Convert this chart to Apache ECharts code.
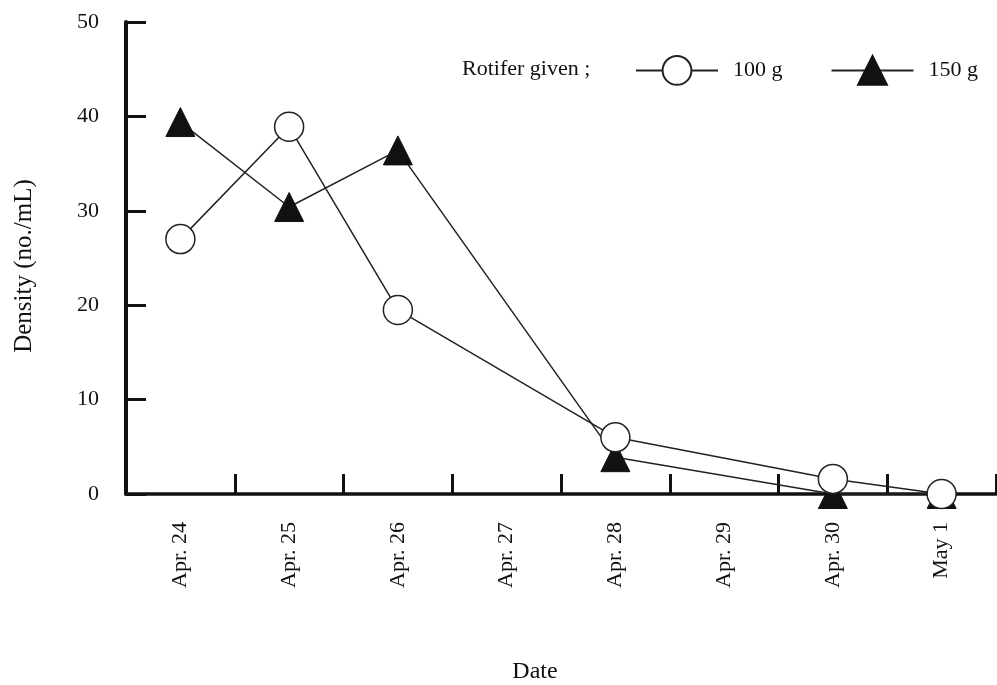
<!DOCTYPE html>
<html>
<head>
<meta charset="utf-8">
<script src="https://cdn.jsdelivr.net/npm/echarts@6/dist/echarts.min.js"></script>
<style>
html,body{margin:0;padding:0;background:#fff;}
#chart{width:997px;height:685px;}
</style>
</head>
<body>
<div id="chart"></div>
<script>
var categories = ['Apr. 24','Apr. 25','Apr. 26','Apr. 27','Apr. 28','Apr. 29','Apr. 30','May 1'];
var series100 = [27.0, 38.9, 19.5, null, 6.0, null, 1.6, 0];
var series150 = [39.4, 30.4, 36.4, null, 3.9, null, 0, 0];
var yTicks = [0, 10, 20, 30, 40, 50];

var FONT = '"Liberation Serif", "DejaVu Serif", serif';
var chart = echarts.init(document.getElementById('chart'));
chart.setOption({
  backgroundColor: '#ffffff',
  animation: false,
  textStyle: {fontFamily: FONT, color: '#111'},
  grid: {left: 126, right: 1, top: 22, bottom: 191, containLabel: false, outerBoundsMode: 'none'},
  legend: {
    left: 635, top: 55, padding: 0,
    itemWidth: 82, itemHeight: 36, itemGap: 48,
    textStyle: {fontFamily: FONT, fontSize: 22, color: '#111', padding: [0,0,0,10]},
    data: ['100 g', '150 g']
  },
  graphic: [{
    type: 'text', left: 462, top: 58,
    style: {text: 'Rotifer given ;', font: '22px ' + FONT, fill: '#111'}
  }],
  xAxis: {
    type: 'category',
    data: categories,
    boundaryGap: true,
    name: 'Date',
    nameLocation: 'middle',
    nameGap: 166,
    nameTextStyle: {fontFamily: FONT, fontSize: 24, color: '#111', padding: [0, 52, 0, 0]},
    axisLine: {show: true, lineStyle: {color: '#111', width: 3.5}},
    axisTick: {show: true, interval: 0, inside: true, length: 20, lineStyle: {color: '#111', width: 3}},
    axisLabel: {show: true, interval: 0, rotate: 90, margin: 28, fontFamily: FONT, fontSize: 22, color: '#111'}
  },
  yAxis: {
    type: 'value',
    min: yTicks[0], max: yTicks[yTicks.length - 1], interval: 10,
    name: 'Density (no./mL)',
    nameLocation: 'middle',
    nameGap: 89,
    nameTextStyle: {fontFamily: FONT, fontSize: 25, color: '#111', padding: [0, 16, 0, 0]},
    splitLine: {show: false},
    axisLine: {show: true, lineStyle: {color: '#111', width: 4}},
    axisTick: {show: true, inside: true, length: 20, lineStyle: {color: '#111', width: 3}},
    axisLabel: {margin: 27, fontFamily: FONT, fontSize: 22, color: '#111'}
  },
  series: [
    {
      name: '100 g', type: 'line', data: series100, connectNulls: true,
      symbol: 'circle', symbolSize: 29, z: 3,
      lineStyle: {color: '#222', width: 1.5},
      itemStyle: {color: '#ffffff', borderColor: '#222', borderWidth: 1.5}
    },
    {
      name: '150 g', type: 'line', data: series150, connectNulls: true,
      symbol: 'triangle', symbolSize: 29, z: 2,
      lineStyle: {color: '#222', width: 1.5},
      itemStyle: {color: '#111', borderColor: '#111', borderWidth: 1}
    }
  ]
});
</script>
</body>
</html>
